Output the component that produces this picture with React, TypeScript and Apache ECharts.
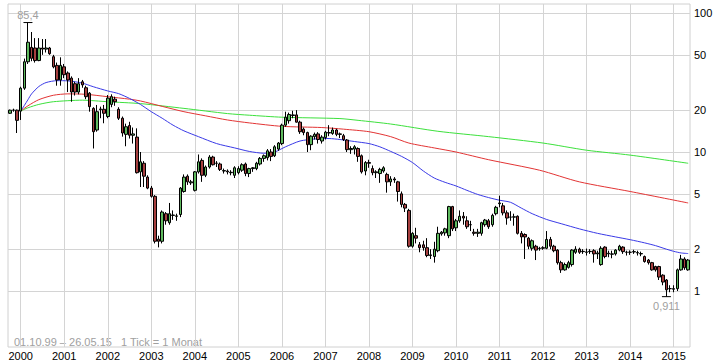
import React, { useEffect, useRef } from 'react';
import * as echarts from 'echarts';

// Monthly categories Oct 1999 .. May 2015
const months: string[] = [];
for (let y = 1999; y <= 2015; y++) {
  for (let m = 1; m <= 12; m++) {
    if (y === 1999 && m < 10) continue;
    if (y === 2015 && m > 5) break;
    months.push(`${y}-${m < 10 ? '0' + m : m}`);
  }
}

const yearLabels = ['2000','2001','2002','2003','2004','2005','2006','2007','2008','2009','2010','2011','2012','2013','2014','2015'];
const yTicks = [1, 2, 5, 10, 20, 50, 100];

// [open, close, low, high] per month
const candles: number[][] = [
  [19, 20, 18.8, 20.2], [20, 20, 19.5, 20.5], [20, 16.9, 13.7, 20.2],
  // 2000
  [19.7, 28.8, 17, 29.5], [28.8, 44.6, 28, 47], [44.6, 61.6, 43, 85.4], [56.6, 47.2, 45, 73],
  [56, 45.5, 44, 66], [45.5, 56, 45, 66], [56, 55, 50, 65], [55, 56, 52, 65],
  [56, 51, 50, 57], [48.5, 41, 40, 50], [42, 33, 30, 44], [33, 42, 30, 48],
  // 2001
  [41, 36, 34, 43], [37, 33, 27, 38], [34, 27, 23, 35], [31, 27, 25.5, 32],
  [27, 31, 26, 34], [32, 30.4, 29, 33], [29, 25, 24, 30], [26.5, 21.2, 19.5, 27],
  [20.6, 14, 10.6, 21], [14.4, 19.5, 14, 21.8], [20.2, 20.4, 17.5, 21.2], [20.3, 19, 16.1, 21.8],
  // 2002
  [18, 24.4, 17.5, 25.7], [22, 25, 21, 26], [24, 23, 21.5, 25], [20.3, 17.5, 17, 21],
  [17.5, 13.7, 12.9, 18], [13.4, 15.2, 11, 16], [15.5, 13.2, 12.5, 16.5], [13.2, 13.5, 11.5, 15],
  [12.8, 7.1, 7.0, 14.8], [7.2, 8.5, 5.6, 10], [8.3, 6.7, 5.6, 8.6], [6.6, 5.5, 5.4, 6.8],
  // 2003
  [5.5, 4.8, 4.7, 5.7], [4.8, 2.28, 2.2, 4.9], [2.36, 2.28, 2.06, 2.5], [2.28, 3.7, 2.2, 3.8],
  [3.6, 3.2, 3.0, 3.7], [3.1, 3.6, 3.0, 4.3], [3.5, 3.52, 3.25, 3.8], [3.45, 3.47, 3.2, 3.6],
  [3.55, 5.5, 3.4, 5.6], [5.2, 6.6, 5.1, 6.9], [6.7, 6.1, 5.8, 6.9], [6.0, 6.1, 5.8, 6.3],
  // 2004
  [5.3, 7.2, 5.2, 7.3], [7.2, 8.5, 7.0, 9.6], [8.7, 6.8, 6.1, 9.0], [6.8, 7.8, 6.6, 8.0],
  [7.8, 9.2, 7.6, 9.5], [9.2, 8.1, 8.0, 9.4], [8.3, 8.3, 7.8, 8.6], [8.2, 7.5, 7.3, 8.4],
  [7.3, 7.35, 7.0, 7.6], [7.3, 7.2, 6.9, 7.5], [7.1, 7.15, 6.8, 7.4], [6.8, 7.7, 6.5, 7.9],
  // 2005
  [7.1, 7.6, 6.9, 7.9], [7.4, 8.1, 7.2, 8.3], [8.2, 7.0, 6.7, 8.4], [7.0, 7.6, 6.6, 7.7],
  [7.6, 7.7, 7.2, 7.8], [7.6, 8.3, 7.4, 8.5], [8.2, 9.0, 8.0, 9.2], [9.0, 9.4, 8.5, 9.6],
  [9.1, 10.2, 8.7, 10.5], [10.0, 9.3, 8.6, 10.5], [9.4, 10.9, 9.2, 11.2], [10.5, 11.6, 10.2, 11.8],
  // 2006
  [11.5, 15.6, 11.2, 16], [15.6, 17.8, 15.2, 19.5], [16.8, 18.6, 16, 19.2], [18.3, 18.5, 17.5, 19.8],
  [18.5, 16.4, 16.3, 20], [16.4, 14.0, 13.5, 16.8], [14.6, 13.8, 13.2, 15], [13.8, 11.3, 10, 14],
  [11.3, 13.0, 10.3, 13.2], [12.9, 13.4, 12.3, 13.8], [13.5, 12.3, 11.5, 13.9], [12.0, 12.8, 11.5, 13.2],
  // 2007
  [12.7, 13.9, 12.3, 14.2], [13.8, 13.7, 13, 15.6], [13.6, 14.4, 13.3, 15], [14.4, 13.4, 13, 14.7],
  [13.4, 13.5, 12.6, 13.8], [13.1, 12.3, 12, 13.5], [12.2, 10.4, 10, 12.4], [10.4, 10.6, 9.7, 11],
  [10.5, 10.9, 9.6, 11.2], [10.6, 9.3, 8.5, 10.8], [9.4, 7.2, 7.0, 9.6], [7.3, 8.4, 6.8, 8.6],
  // 2008
  [8.4, 8.3, 7.7, 8.8], [7.6, 7.1, 6.8, 8.0], [7.1, 7.2, 6.5, 7.4], [7.0, 7.5, 6.0, 7.7],
  [7.3, 7.7, 7.1, 7.9], [6.9, 6.1, 5.1, 7.1], [6.1, 6.4, 5.7, 6.7], [6.4, 6.3, 6.0, 6.6],
  [6.1, 5.2, 4.4, 6.2], [5.0, 4.2, 4.0, 5.2], [4.2, 3.95, 3.7, 4.3], [3.8, 2.1, 2.05, 3.9],
  // 2009
  [2.1, 2.6, 2.05, 2.65], [2.5, 2.4, 2.2, 2.85], [2.15, 2.05, 1.9, 2.25], [2.15, 2.05, 1.95, 2.3],
  [2.05, 1.8, 1.75, 2.4], [1.8, 1.82, 1.7, 2.0], [1.77, 2.0, 1.6, 2.26], [1.95, 2.6, 1.9, 2.9],
  [2.58, 2.65, 2.5, 2.7], [2.62, 2.8, 2.5, 2.85], [2.5, 4.05, 2.4, 4.1], [4.05, 2.8, 2.7, 4.1],
  // 2010
  [2.85, 3.2, 2.7, 3.3], [3.2, 3.45, 3.1, 3.8], [3.45, 3.35, 3.0, 3.7], [3.2, 2.9, 2.8, 3.45],
  [3.0, 3.0, 2.7, 3.2], [2.65, 2.6, 2.5, 2.8], [2.6, 2.65, 2.45, 2.8], [2.6, 3.1, 2.5, 3.15],
  [3.0, 3.24, 2.9, 3.3], [3.2, 2.9, 2.8, 3.3], [3.0, 3.5, 2.9, 3.6], [3.6, 4.0, 3.5, 4.1],
  // 2011
  [4.25, 4.3, 4.0, 4.85], [4.1, 3.65, 3.5, 4.3], [3.65, 3.35, 3.0, 3.8], [3.4, 3.4, 3.2, 3.75],
  [3.4, 3.42, 2.95, 3.6], [3.45, 2.6, 2.55, 3.5], [2.6, 2.45, 2.2, 2.7], [2.55, 2.45, 1.7, 2.6],
  [2.4, 2.1, 2.0, 2.45], [2.03, 2.3, 1.95, 2.35], [2.1, 1.97, 1.67, 2.15], [2.02, 2.03, 1.95, 2.08],
  // 2012
  [2.03, 2.05, 1.98, 2.1], [2.03, 2.35, 2.0, 2.7], [2.35, 2.1, 2.0, 2.45], [2.1, 1.95, 1.9, 2.15],
  [1.97, 1.6, 1.55, 2.0], [1.6, 1.42, 1.35, 1.65], [1.42, 1.55, 1.4, 1.6], [1.48, 1.6, 1.45, 1.65],
  [1.55, 1.97, 1.5, 2.0], [1.9, 2.0, 1.85, 2.1], [2.0, 1.9, 1.85, 2.05], [1.93, 1.92, 1.85, 2.0],
  // 2013
  [1.9, 1.91, 1.8, 2.02], [1.92, 1.93, 1.85, 2.0], [1.95, 1.85, 1.6, 2.0], [1.85, 1.88, 1.7, 1.95],
  [1.55, 2.03, 1.52, 2.1], [2.07, 1.77, 1.72, 2.1], [1.85, 1.87, 1.75, 1.95], [1.84, 1.85, 1.72, 1.95],
  [1.85, 1.97, 1.8, 2.0], [1.97, 2.1, 1.93, 2.15], [2.07, 1.92, 1.85, 2.1], [1.9, 1.9, 1.8, 1.95],
  // 2014
  [1.9, 1.9, 1.82, 1.96], [1.91, 1.92, 1.85, 1.98], [1.88, 1.89, 1.8, 1.95], [1.85, 1.86, 1.78, 1.92],
  [1.77, 1.63, 1.6, 1.8], [1.67, 1.6, 1.55, 1.7], [1.6, 1.42, 1.4, 1.62], [1.5, 1.42, 1.38, 1.52],
  [1.5, 1.26, 1.2, 1.52], [1.3, 1.16, 1.1, 1.32], [1.2, 1.02, 0.911, 1.22], [1.04, 1.04, 0.98, 1.1],
  // 2015
  [1.03, 1.04, 0.98, 1.1], [1.04, 1.42, 1.0, 1.45], [1.42, 1.7, 1.4, 1.82], [1.7, 1.47, 1.42, 1.75],
  [1.42, 1.67, 1.4, 1.7],
];

// Moving averages, read at selected months
const blueMA: [string, number][] = [
  ['2000-01', 19.7], ['2000-02', 21.6], ['2000-03', 23.8], ['2000-04', 26.2], ['2000-06', 29.6], ['2000-08', 31.6],
  ['2000-11', 32.6], ['2001-02', 32.5], ['2001-06', 31.3], ['2001-09', 29.5], ['2002-01', 27.5], ['2002-04', 26.3],
  ['2002-07', 24.3], ['2002-10', 22], ['2003-01', 19.5], ['2003-04', 17.5], ['2003-07', 15.6], ['2003-10', 14.2],
  ['2004-02', 12.9], ['2004-07', 11.5], ['2004-12', 10.7], ['2005-04', 10.1], ['2005-08', 9.8], ['2005-11', 10],
  ['2006-02', 10.9], ['2006-06', 12], ['2006-10', 12.4], ['2007-02', 12.5], ['2007-05', 12.3], ['2007-09', 11.9],
  ['2008-01', 11.5], ['2008-04', 10.9], ['2008-07', 10.1], ['2008-10', 9.3], ['2009-01', 8.4], ['2009-04', 7.3],
  ['2009-07', 6.5], ['2009-10', 6.05], ['2010-01', 5.7], ['2010-04', 5.3], ['2010-07', 4.95], ['2010-10', 4.7],
  ['2011-01', 4.5], ['2011-04', 4.35], ['2011-07', 3.95], ['2011-10', 3.6], ['2012-02', 3.27], ['2012-06', 3.05],
  ['2012-11', 2.8], ['2013-04', 2.6], ['2013-09', 2.45], ['2014-01', 2.34], ['2014-05', 2.22], ['2014-08', 2.12],
  ['2014-11', 2.0], ['2015-01', 1.93], ['2015-03', 1.88], ['2015-05', 1.86],
];
const redMA: [string, number][] = [
  ['2000-01', 19.7], ['2000-03', 21.5], ['2000-06', 23.8], ['2000-10', 25.6], ['2001-02', 26.2], ['2001-07', 26],
  ['2002-01', 25], ['2002-07', 24], ['2002-10', 23.3], ['2003-04', 21.3], ['2003-10', 19.5], ['2004-04', 18.2],
  ['2004-10', 17], ['2005-04', 16.2], ['2006-01', 15.3], ['2006-12', 15], ['2007-06', 14.6], ['2008-01', 14],
  ['2008-07', 12.9], ['2008-12', 11.6], ['2009-07', 10.7], ['2010-01', 10], ['2010-10', 8.8], ['2011-12', 7.4],
  ['2012-11', 6.1], ['2014-01', 5.2], ['2015-05', 4.3],
];
const greenMA: [string, number][] = [
  ['2000-01', 19.7], ['2000-03', 20.8], ['2000-06', 22], ['2000-10', 23], ['2001-06', 23.6], ['2002-01', 23],
  ['2002-10', 22.3], ['2003-10', 20.6], ['2004-10', 18.9], ['2005-04', 18.4], ['2006-01', 17.8], ['2007-05', 17.4],
  ['2007-10', 16.9], ['2008-07', 15.9], ['2009-08', 14.1], ['2010-10', 12.9], ['2012-01', 11.6], ['2013-01', 10.3],
  ['2014-01', 9.5], ['2015-05', 8.3],
];

const maxPoint = { month: '2000-03', value: 85.4, text: '85,4' };
const minPoint = { month: '2014-11', value: 0.911, text: '0,911' };

const FONT = '"Liberation Sans", Arial, sans-serif';

function toSeries(pts: [string, number][]) {
  const map = new Map(pts);
  return months.map((m) => (map.has(m) ? map.get(m)! : null));
}

export default function App() {
  const ref = useRef<HTMLDivElement>(null);
  useEffect(() => {
    if (!ref.current) return;
    const chart = echarts.init(ref.current, undefined, { renderer: 'svg' });
    const maLine = (pts: [string, number][], color: string, z: number) => ({
      type: 'line',
      data: toSeries(pts),
      connectNulls: true,
      smooth: 0.25,
      symbol: 'none',
      silent: true,
      z,
      lineStyle: { color, width: 1 },
    });
    chart.setOption({
      animation: false,
      backgroundColor: '#ffffff',
      textStyle: { fontFamily: FONT },
      grid: {
        left: 8, right: 34, top: 4, bottom: 16,
        show: true, borderColor: '#d0d0d0', borderWidth: 1, backgroundColor: 'transparent',
      },
      xAxis: {
        type: 'category',
        data: months,
        boundaryGap: true,
        axisLine: { show: false },
        axisTick: { show: false },
        splitLine: { show: false },
        axisLabel: {
          interval: (_i: number, v: string) => v.endsWith('-01'),
          formatter: (v: string) => v.slice(0, 4),
          color: '#000', fontSize: 11, margin: 3, fontFamily: FONT,
        },
      },
      yAxis: {
        type: 'log',
        logBase: 10,
        min: 0.3956,
        max: 116.1,
        axisLine: { show: false },
        axisTick: { show: false },
        axisLabel: { show: false },
        splitLine: { show: false },
      },
      graphic: [
        {
          type: 'text', left: 14, top: 336, silent: true,
          style: { text: '01.10.99 – 26.05.15   1 Tick = 1 Monat', fill: '#a0a0a0', font: `11px ${FONT}` },
        },
      ],
      series: [
        {
          type: 'line',
          data: [],
          silent: true,
          z: 0,
          markLine: {
            silent: true,
            z: 0,
            symbol: 'none',
            animation: false,
            lineStyle: { color: '#d4d4d4', width: 1, type: 'solid' },
            label: {
              show: true, position: 'end', distance: 4, color: '#000', fontSize: 11, fontFamily: FONT,
              formatter: (p: any) => String(p.value),
            },
            emphasis: { disabled: true },
            data: [
              ...yTicks.map((v) => ({ yAxis: v })),
              ...yearLabels.map((y) => ({ xAxis: `${y}-01`, label: { show: false } })),
            ],
          },
        },
        maLine(greenMA, '#3ce03c', 2),
        maLine(redMA, '#e23434', 3),
        maLine(blueMA, '#3a3ae6', 4),
        {
          type: 'candlestick',
          z: 5,
          barWidth: 3,
          silent: true,
          data: candles,
          itemStyle: {
            color: '#5fba5f',
            color0: '#a63f3f',
            borderColor: '#000',
            borderColor0: '#000',
            borderWidth: 1,
          },
          markPoint: {
            silent: true,
            symbol: 'rect',
            symbolSize: [9, 1],
            itemStyle: { color: '#000' },
            data: [
              {
                coord: [maxPoint.month, maxPoint.value],
                label: { show: true, position: 'top', distance: 2, formatter: maxPoint.text, color: '#a0a0a0', fontSize: 11, fontFamily: FONT },
              },
              {
                coord: [minPoint.month, minPoint.value],
                label: { show: true, position: 'bottom', distance: 3, formatter: minPoint.text, color: '#a0a0a0', fontSize: 11, fontFamily: FONT },
              },
            ],
          },
        },
      ],
    });
    return () => chart.dispose();
  }, []);
  return (
    <div
      ref={ref}
      style={{ position: 'fixed', left: 0, top: 0, width: 724, height: 363, background: '#fff' }}
    />
  );
}
